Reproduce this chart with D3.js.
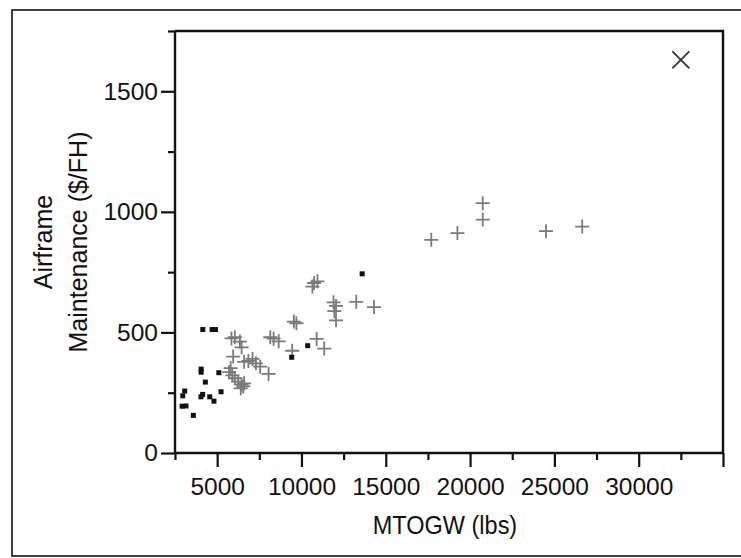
<!DOCTYPE html>
<html><head><meta charset="utf-8">
<script src="https://cdn.jsdelivr.net/npm/d3@7"></script>
<style>
html,body{margin:0;padding:0;background:#fff;}
svg{display:block;}
text{font-family:"Liberation Sans",Arial,Helvetica,sans-serif;fill:#111;}
</style></head>
<body><svg id="chart" width="741" height="558"></svg>
<script>
// Data: MTOGW (lbs) vs Airframe maintenance ($/FH)
const crossX = [5850,6050,6350,6450,5950,5800,5700,5900,6050,6250,6450,6400,6600,6550,6600,6850,7100,7300,7550,8050,8150,8350,8650,9550,9700,9450,10900,11350,10650,10750,10950,11900,12050,11950,12050,13250,14300,17700,19250,20750,20750,24500,26650];
const crossY = [475,480,462,438,400,352,335,322,310,296,284,268,289,276,378,382,390,372,358,328,480,474,463,545,538,424,473,433,690,705,712,625,610,588,550,627,605,884,912,968,1036,920,939];
const squareX = [4150,4700,4900,4050,4050,5100,4300,5230,3075,2960,4140,4040,4560,4810,2920,3150,3590,13600,10370,9420];
const squareY = [512,512,512,348,335,333,294,254,257,237,243,233,233,215,194,195,156,743,445,397];
const outlierX = [32500];
const outlierY = [1630];
const xTickLabels = [5000,10000,15000,20000,25000,30000];
const yTickLabels = [0,500,1000,1500];
const xTitle = "MTOGW (lbs)";
const yTitle = ["Airframe","Maintenance ($/FH)"];

const svg = d3.select("#chart");
const L = 175, R = 723, T = 31, B = 453;
const x = d3.scaleLinear().domain([2500,35000]).range([L,R]);
const y = d3.scaleLinear().domain([0,1750]).range([B,T]);

// outer frame
svg.append("rect").attr("x",12).attr("y",10).attr("width",740).attr("height",546)
  .attr("fill","none").attr("stroke","#111").attr("stroke-width",1.6);

// plot box (top & right)
svg.append("path").attr("d",`M${L},${T}H${R}V${B}`).attr("fill","none")
  .attr("stroke","#111").attr("stroke-width",2.4);

// x axis
const xMajor = d3.range(5000,35001,5000);
const xMinor = d3.range(2500,35000,5000);
const gx = svg.append("g").attr("transform",`translate(0,${B})`);
gx.append("g").call(d3.axisBottom(x).tickValues(xMinor).tickSize(7).tickFormat(""))
  .call(g=>g.select(".domain").remove());
gx.append("g").call(d3.axisBottom(x).tickValues(xMajor).tickSize(14)
  .tickFormat(d=>xTickLabels.includes(d)?String(d):"").tickPadding(11))
  .call(g=>g.select(".domain").remove());
gx.append("line").attr("x1",L).attr("x2",R).attr("stroke","#111").attr("stroke-width",2.4);
gx.selectAll(".tick line").attr("stroke","#111").attr("stroke-width",2.2);
gx.selectAll(".tick text").attr("font-size",24.5).attr("fill","#111")
  .style("font-family",'"Liberation Sans",Arial,sans-serif');

// y axis
const yMinor = d3.range(250,1751,500);
const gy = svg.append("g").attr("transform",`translate(${L},0)`);
gy.append("g").call(d3.axisLeft(y).tickValues(yMinor).tickSize(7).tickFormat(""))
  .call(g=>g.select(".domain").remove());
gy.append("g").call(d3.axisLeft(y).tickValues(yTickLabels).tickSize(14).tickPadding(3)
  .tickFormat(d=>String(d)))
  .call(g=>g.select(".domain").remove());
gy.append("line").attr("y1",T).attr("y2",B).attr("stroke","#111").attr("stroke-width",2.4);
gy.selectAll(".tick line").attr("stroke","#111").attr("stroke-width",2.2);
gy.selectAll(".tick text").attr("font-size",24.5).attr("fill","#111")
  .style("font-family",'"Liberation Sans",Arial,sans-serif');

// titles
svg.append("text").attr("x",(L+R)/2 - 4).attr("y",534).attr("text-anchor","middle")
  .attr("font-size",25).attr("transform",`translate(${(L+R)/2-4},0) scale(0.94,1) translate(${-((L+R)/2-4)},0)`)
  .text(xTitle);
const cy = (T+B)/2;
svg.append("text").attr("transform",`translate(52,${cy}) rotate(-90)`).attr("text-anchor","middle")
  .attr("font-size",25).text(yTitle[0]);
svg.append("text").attr("transform",`translate(87,${cy}) rotate(-90)`).attr("text-anchor","middle")
  .attr("font-size",25).text(yTitle[1]);

// crosses
const crosses = crossX.map((d,i)=>({x:d,y:crossY[i]}));
const cs = 7;
svg.append("g").selectAll("path").data(crosses).join("path")
  .attr("d",d=>{const px=x(d.x),py=y(d.y);return `M${px-cs},${py}H${px+cs}M${px},${py-cs}V${py+cs}`;})
  .attr("stroke","#7a7a7a").attr("stroke-width",1.8).attr("fill","none");

// squares
const squares = squareX.map((d,i)=>({x:d,y:squareY[i]}));
svg.append("g").selectAll("rect").data(squares).join("rect")
  .attr("x",d=>x(d.x)-2.5).attr("y",d=>y(d.y)-2.5).attr("width",5).attr("height",5)
  .attr("fill","#111");

// outlier X
const outs = outlierX.map((d,i)=>({x:d,y:outlierY[i]}));
const os = 8.5;
svg.append("g").selectAll("path").data(outs).join("path")
  .attr("d",d=>{const px=x(d.x),py=y(d.y);return `M${px-os},${py-os}L${px+os},${py+os}M${px+os},${py-os}L${px-os},${py+os}`;})
  .attr("stroke","#333").attr("stroke-width",1.8).attr("fill","none");
</script></body></html>
